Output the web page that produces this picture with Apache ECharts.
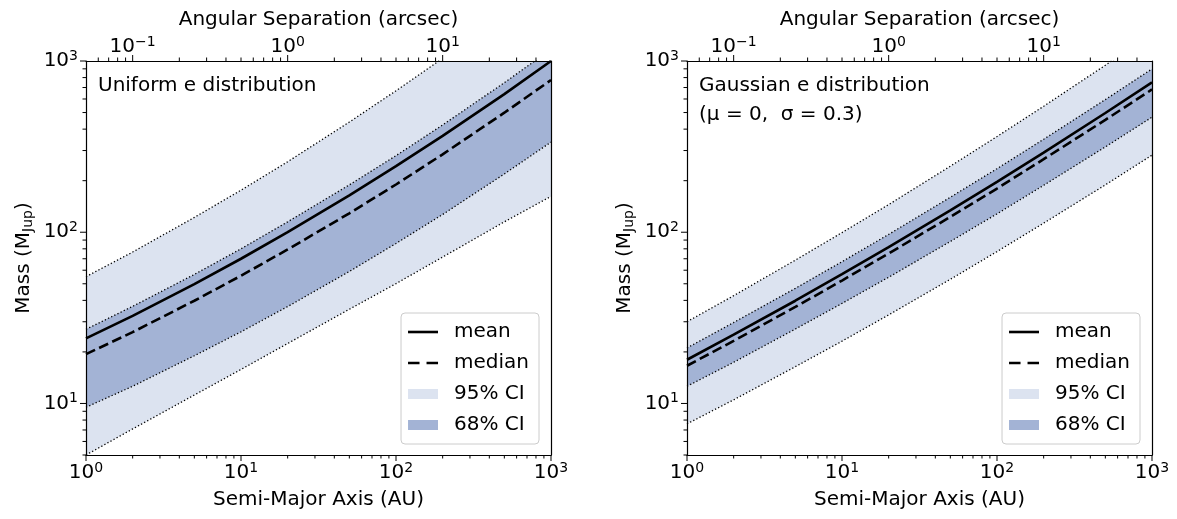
<!DOCTYPE html>
<html><head><meta charset="utf-8">
<script src="https://cdn.jsdelivr.net/npm/echarts@6/dist/echarts.min.js"></script>
<style>html,body{margin:0;padding:0;background:#fff}#c{width:1177px;height:519px}</style>
</head><body><div id="c"></div>
<script>
// ---------------- data ----------------
const AU = [1, 2, 5, 10, 20, 50, 100, 200, 500, 1000];

const uniMean   = [24.0, 32.5, 49.8, 70.0, 100, 164, 243, 365, 641, 1000];
const uniMedian = [19.4, 26.1, 39.8, 55.7, 79.3, 129, 190, 285, 499, 774];
const uni68Hi   = [27.1, 36.9, 56.7, 80.0, 115, 189, 280, 423, 747, 1170];
const uni68Lo   = [9.5, 12.6, 19.0, 26.2, 36.8, 59.0, 86.0, 127, 219, 336];
const uni95Hi   = [55, 76.6, 122, 176, 258, 440, 670, 1036, 1890, 3020];
const uni95Lo   = [5.0, 7.1, 11.2, 15.8, 22.4, 35.5, 50.1, 71.6, 115, 162];

const gauMean   = [18.0, 25.2, 39.8, 56.9, 81.9, 134, 197, 292, 497, 750];
const gauMedian = [16.6, 23.2, 36.6, 52.2, 75.1, 123, 180, 267, 453, 682];
const gau68Hi   = [21.1, 29.7, 47.0, 67.3, 97.1, 160, 235, 349, 595, 899];
const gau68Lo   = [12.6, 17.4, 27.2, 38.4, 54.6, 88.3, 128, 188, 315, 470];
const gau95Hi   = [30, 42.6, 68.7, 99.5, 145, 243, 362, 544, 944, 1445];
const gau95Lo   = [7.6, 10.5, 16.4, 23.1, 32.9, 53.1, 77.1, 113, 189, 282];

const DIST_PC = 20;           // arcsec = AU / distance(pc)
const AU_MIN = 1, AU_MAX = 1000;
const MASS_MIN = 5, MASS_MAX = 1000;

const xMajor = [1, 10, 100, 1000];
const xMinor = [2,3,4,5,6,7,8,9,20,30,40,50,60,70,80,90,200,300,400,500,600,700,800,900];
const yMajor = [10, 100, 1000];
const yMinor = [5,6,7,8,9,20,30,40,50,60,70,80,90,200,300,400,500,600,700,800,900];
const topMajor = [0.1, 1, 10];
const topMinor = [0.06,0.07,0.08,0.09,0.2,0.3,0.4,0.5,0.6,0.7,0.8,0.9,2,3,4,5,6,7,8,9,20,30,40];

const legendNames = ['mean', 'median', '95% CI', '68% CI'];
const panelTexts = ['Uniform e distribution', 'Gaussian e distribution\n(\u03bc = 0,  \u03c3 = 0.3)'];

// ---------------- style ----------------
const FONT = 'DejaVu Sans';
const C95 = '#dce3f0';
const C68 = '#a3b3d5';
const GRIDS = [{left: 86, top: 61, width: 465, height: 394}, {left: 687, top: 61, width: 465, height: 394}];
const ICON_SOLID = 'path://M0,0H30V2.6H0Z';
const ICON_DASH = 'path://M0,0H11.5V2.6H0Z M18.5,0H30V2.6H18.5Z';

const RICH = {
  b: {fontFamily: FONT, fontSize: 20, color: '#000'},
  s: {fontFamily: FONT, fontSize: 14, lineHeight: 14, color: '#000', padding: [0, 0, 10, 0]}
};
function powLabel(v) {
  const l = Math.log10(v), e = Math.round(l);
  if (Math.abs(l - e) > 1e-6) return '';
  return '{b|10}{s|' + (e < 0 ? '\u2212' + (-e) : e) + '}';
}
const lineBlack = {show: true, onZero: false, lineStyle: {color: '#000', width: 1.2}};

const xAxes = [], yAxes = [], series = [], titles = [], legends = [];

function bandSeries(gi, name, lo, hi, color) {
  const rows = AU.map((x, i) => [x, lo[i], hi[i]]);
  return {
    type: 'custom', name: name, xAxisIndex: 2 * gi, yAxisIndex: 2 * gi, clip: true, silent: true,
    itemStyle: {color: color}, encode: {x: 0, y: [1, 2]}, data: rows,
    renderItem: function (params, api) {
      if (params.dataIndex !== 0) return null;
      const pts = [];
      for (let i = 0; i < rows.length; i++) pts.push(api.coord([rows[i][0], rows[i][2]]));
      for (let i = rows.length - 1; i >= 0; i--) pts.push(api.coord([rows[i][0], rows[i][1]]));
      const cs = params.coordSys;
      return {type: 'polygon', shape: {points: pts}, style: {fill: color},
              clipPath: {type: 'rect', shape: {x: cs.x, y: cs.y, width: cs.width, height: cs.height}}};
    }
  };
}
function lineSeries(gi, name, ys, type, width) {
  return {
    type: 'line', name: name, xAxisIndex: 2 * gi, yAxisIndex: 2 * gi, clip: true, silent: true,
    symbol: 'none', showSymbol: false, smooth: false,
    lineStyle: {color: '#000', width: width, type: type},
    itemStyle: {color: '#000'},
    data: AU.map((x, i) => [x, ys[i]])
  };
}
function tickSeries(gi, side, major, minor) {
  const rows = major.map(v => [v, 6]).concat(minor.map(v => [v, 3.5]));
  const xi = side === 'top' ? 2 * gi + 1 : 2 * gi;
  return {
    type: 'custom', xAxisIndex: xi, yAxisIndex: 2 * gi, clip: false, silent: true, z: 20,
    encode: {x: 0, y: 1}, data: rows,
    renderItem: function (params, api) {
      const v = api.value(0), len = api.value(1), cs = params.coordSys;
      let shape;
      if (side === 'bottom') {
        const p = api.coord([v, MASS_MIN]);
        shape = {x1: p[0], y1: cs.y + cs.height, x2: p[0], y2: cs.y + cs.height + len};
      } else if (side === 'left') {
        const p = api.coord([AU_MIN, v]);
        shape = {x1: cs.x, y1: p[1], x2: cs.x - len, y2: p[1]};
      } else {
        const p = api.coord([v, MASS_MAX]);
        shape = {x1: p[0], y1: cs.y, x2: p[0], y2: cs.y - len};
      }
      return {type: 'line', shape: shape, style: {stroke: '#000', lineWidth: 1}};
    }
  };
}

const panels = [
  {mean: uniMean, median: uniMedian, h68: uni68Hi, l68: uni68Lo, h95: uni95Hi, l95: uni95Lo},
  {mean: gauMean, median: gauMedian, h68: gau68Hi, l68: gau68Lo, h95: gau95Hi, l95: gau95Lo}
];

panels.forEach((P, gi) => {
  const g = GRIDS[gi];
  xAxes.push({
    gridIndex: gi, type: 'log', logBase: 10, min: AU_MIN, max: AU_MAX, position: 'bottom', z: 10,
    name: 'Semi-Major Axis (AU)', nameLocation: 'middle', nameGap: 35,
    nameTextStyle: {fontFamily: FONT, fontSize: 20, color: '#000'},
    axisLine: lineBlack, axisTick: {show: false}, splitLine: {show: false}, minorTick: {show: false},
    axisLabel: {margin: 8, formatter: powLabel, rich: RICH}
  });
  xAxes.push({
    gridIndex: gi, type: 'log', logBase: 10, min: AU_MIN / DIST_PC, max: AU_MAX / DIST_PC, position: 'top', z: 10,
    name: 'Angular Separation (arcsec)', nameLocation: 'middle', nameGap: 31,
    nameTextStyle: {fontFamily: FONT, fontSize: 20, color: '#000'},
    axisLine: lineBlack, axisTick: {show: false}, splitLine: {show: false}, minorTick: {show: false},
    axisLabel: {margin: 4, formatter: powLabel, rich: RICH, showMinLabel: false, showMaxLabel: false}
  });
  yAxes.push({
    gridIndex: gi, type: 'log', logBase: 10, min: MASS_MIN, max: MASS_MAX, position: 'left', z: 10,
    name: '{a|Mass (M}{j|Jup}{a|)}', nameLocation: 'middle', nameGap: 52, nameRotate: 90,
    nameTextStyle: {rich: {
      a: {fontFamily: FONT, fontSize: 20, color: '#000'},
      j: {fontFamily: FONT, fontSize: 14, lineHeight: 14, color: '#000', padding: [8, 0, 0, 0]}
    }},
    axisLine: lineBlack, axisTick: {show: false}, splitLine: {show: false}, minorTick: {show: false},
    axisLabel: {margin: 8, formatter: powLabel, rich: RICH, showMinLabel: false}
  });
  yAxes.push({
    gridIndex: gi, type: 'value', min: 0, max: 1, position: 'right', z: 10,
    axisLine: lineBlack, axisTick: {show: false}, axisLabel: {show: false}, splitLine: {show: false}
  });

  series.push(bandSeries(gi, '95% CI', P.l95, P.h95, C95));
  series.push(bandSeries(gi, '68% CI', P.l68, P.h68, C68));
  const dot = [1.3, 2.2];
  series.push(lineSeries(gi, '_d95hi' + gi, P.h95, dot, 1.3));
  series.push(lineSeries(gi, '_d95lo' + gi, P.l95, dot, 1.3));
  series.push(lineSeries(gi, '_d68hi' + gi, P.h68, dot, 1.3));
  series.push(lineSeries(gi, '_d68lo' + gi, P.l68, dot, 1.3));
  series.push(lineSeries(gi, 'median', P.median, [10, 4.5], 2.6));
  series.push(lineSeries(gi, 'mean', P.mean, 'solid', 2.6));
  series.push(tickSeries(gi, 'bottom', xMajor, xMinor));
  series.push(tickSeries(gi, 'left', yMajor, yMinor));
  series.push(tickSeries(gi, 'top', topMajor, topMinor));

  titles.push({
    text: panelTexts[gi], left: g.left + 12, top: 71, padding: 0,
    textStyle: {fontFamily: FONT, fontSize: 20, fontWeight: 'normal', color: '#000', lineHeight: 29}
  });
  legends.push({
    orient: 'vertical', right: 1177 - (g.left + g.width - 12), top: 313,
    data: [{name: legendNames[0], icon: ICON_SOLID}, {name: legendNames[1], icon: ICON_DASH},
           {name: legendNames[2], icon: 'rect'}, {name: legendNames[3], icon: 'rect'}],
    itemWidth: 30, itemHeight: 10, itemGap: 11, padding: [9, 10, 9, 7], symbolKeepAspect: true,
    backgroundColor: 'rgba(255,255,255,0.85)', borderColor: '#cccccc', borderWidth: 1, borderRadius: 4,
    textStyle: {fontFamily: FONT, fontSize: 20, color: '#000', padding: [0, 0, 0, 11]},
    selectedMode: false
  });
});

const chart = echarts.init(document.getElementById('c'), null, {renderer: 'canvas'});
chart.setOption({
  animation: false,
  backgroundColor: '#fff',
  title: titles,
  legend: legends,
  grid: GRIDS.map(g => Object.assign({containLabel: false}, g)),
  xAxis: xAxes,
  yAxis: yAxes,
  series: series
});
</script>
</body></html>
